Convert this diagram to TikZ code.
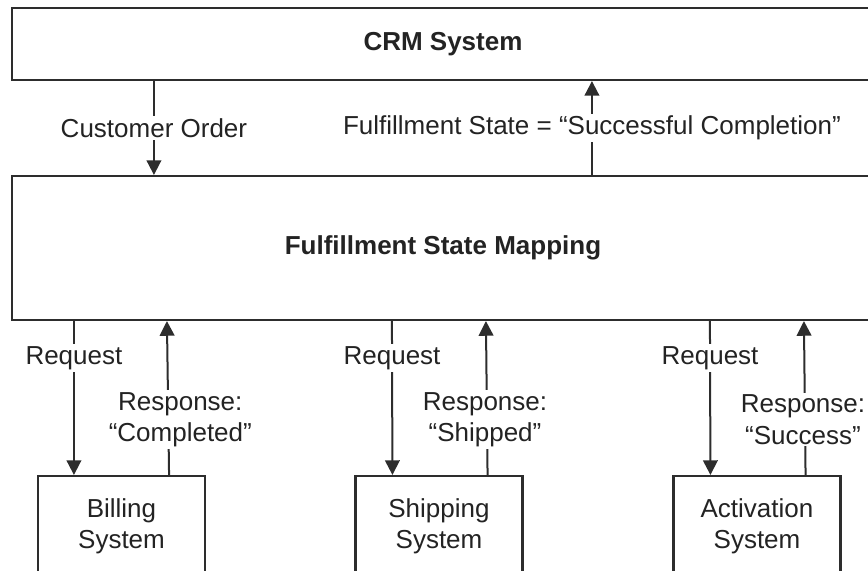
\documentclass[tikz,border=0pt]{standalone}
\usepackage{fontspec}
\setmainfont{Liberation Sans}
\usetikzlibrary{arrows.meta, positioning, calc}

\definecolor{linegray}{RGB}{45,45,45}
\definecolor{textgray}{RGB}{35,35,35}

\tikzset{
  sysbox/.style={draw=linegray, line width=1.6pt, fill=white, inner sep=0pt, align=center, text=textgray},
  flow/.style={draw=linegray, line width=1.5pt, -{Triangle[width=11pt,length=11pt]}},
  lbl/.style={fill=white, inner sep=1.5pt, align=center, text=textgray},
}

\begin{document}
\begin{tikzpicture}[x=0.75pt,y=0.75pt,yscale=-1,xscale=1, font=\fontsize{19.5}{23.5}\selectfont]
\useasboundingbox (0,0) rectangle (868,571);
\clip (0,0) rectangle (868,571);

% top boxes
\node[sysbox, minimum width=646.5pt, minimum height=54pt] (crm) at (443,44) {\textbf{CRM System}};
\node[sysbox, minimum width=646.5pt, minimum height=108pt] (map) at (443,248) {\textbf{Fulfillment State Mapping}};

% back-end systems
\node[sysbox, minimum width=125.25pt, minimum height=75pt] (bill) at (121.5,526) {Billing\\System};
\node[sysbox, minimum width=125.25pt, minimum height=75pt] (ship) at (439,526) {Shipping\\System};
\node[sysbox, minimum width=125.25pt, minimum height=75pt] (act) at (757,526) {Activation\\System};

% CRM <-> mapping
\draw[flow] ($(crm.south west)+(143,0)$) -- node[lbl] {Customer Order} ($(map.north west)+(143,0)$);
\draw[flow] ($(map.north west)+(581,0)$) -- node[lbl] {Fulfillment State = “Successful Completion”} ($(crm.south west)+(581,0)$);

% requests and responses
\draw[flow] ($(map.south west)+(63,0)$) -- node[lbl, pos=0.24] {Request} ($(bill.north west)+(37,0)$);
\draw[flow] ($(bill.north east)+(-37,0)$) -- node[lbl, pos=0.36, xshift=9pt] {Response:\\“Completed”} ($(map.south west)+(156,0)$);

\draw[flow] ($(map.south west)+(381,0)$) -- node[lbl, pos=0.24] {Request} ($(ship.north west)+(38,0)$);
\draw[flow] ($(ship.north east)+(-36,0)$) -- node[lbl, pos=0.36, xshift=-1.5pt] {Response:\\“Shipped”} ($(map.south west)+(475,0)$);

\draw[flow] ($(map.south west)+(699,0)$) -- node[lbl, pos=0.24] {Request} ($(act.north west)+(38,0)$);
\draw[flow] ($(act.north east)+(-36,0)$) -- node[lbl, pos=0.36, xshift=-1.5pt] {Response:\\“Success”} ($(map.south west)+(793,0)$);

\end{tikzpicture}
\end{document}
